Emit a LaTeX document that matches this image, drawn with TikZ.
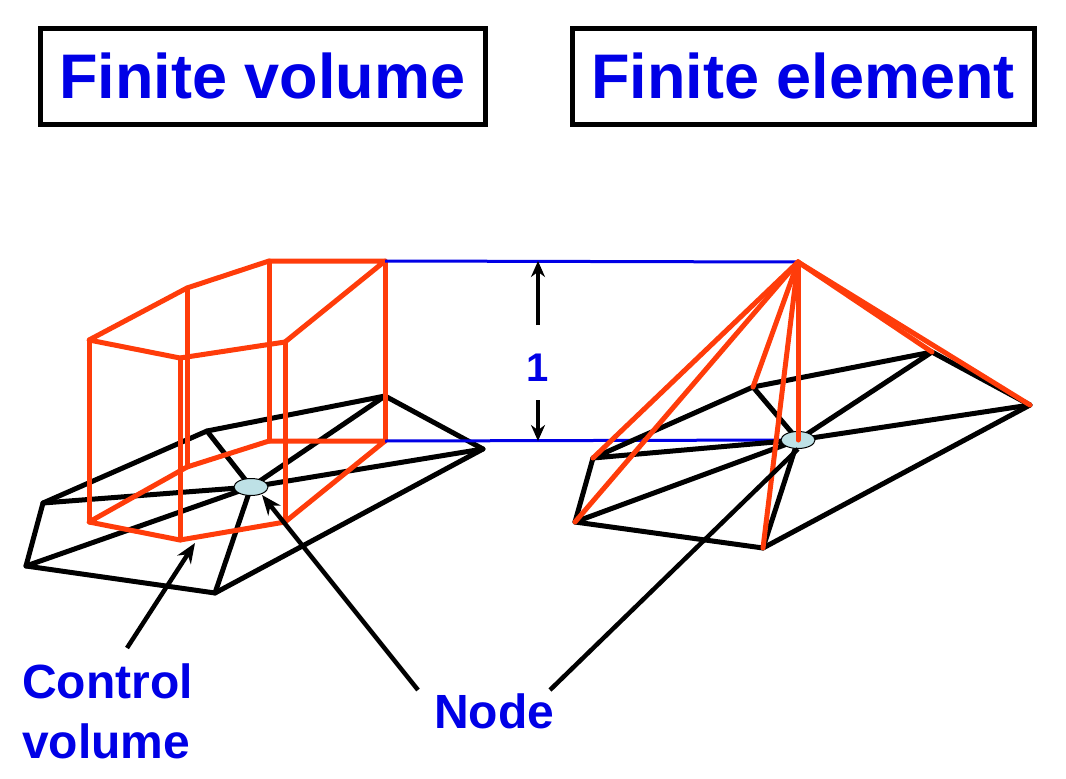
\documentclass[tikz,border=0pt]{standalone}
\usepackage{fontspec}
\setmainfont{Liberation Sans}
\usetikzlibrary{arrows.meta,shapes.geometric}
\definecolor{tblue}{RGB}{0,0,230}
\definecolor{tred}{RGB}{255,60,10}
\definecolor{nodefill}{RGB}{190,225,230}
\begin{document}
\begin{tikzpicture}[x=1pt,y=-1pt,
  mesh/.style={black,line width=5pt,line join=round,line cap=round},
  cv/.style={tred,line width=5pt,line join=round,line cap=round},
  guide/.style={tblue,line width=3pt},
  pt/.style={ellipse,draw=black,fill=nodefill,minimum width=34pt,minimum height=17pt,inner sep=0pt,line width=1pt},
  ttl/.style={font=\bfseries\fontsize{63}{66}\selectfont,text=tblue},
  lbl/.style={font=\bfseries\fontsize{48}{60}\selectfont,text=tblue,align=left},
  ptr/.style={black,line width=4.5pt,-{Stealth[length=20pt,width=16pt]}}]
\useasboundingbox (0,0) rectangle (1066,779);
% titles
\draw[line width=5pt] (40,28) rectangle (485,124);
\node[ttl] (t1) at (262.5,76) {Finite volume};
\draw[line width=5pt] (572,28) rectangle (1034,124);
\node[ttl] (t2) at (803,76) {Finite element};
% left mesh
\coordinate (A) at (207,431); \coordinate (B) at (385,396); \coordinate (C) at (483,449);
\coordinate (D) at (215,593); \coordinate (E) at (26,566); \coordinate (F) at (43,503);
\coordinate (N) at (251,487);
\draw[mesh] (F)--(A)--(B)--(C)--(D)--(E)--cycle;
\foreach \p in {A,B,C,D,E,F} \draw[mesh] (N)--(\p);
% control volume
\coordinate (T1) at (89,340); \coordinate (T2) at (187,288); \coordinate (T3) at (269,261);
\coordinate (T4) at (385,261); \coordinate (T5) at (285,342); \coordinate (T6) at (180,358);
\coordinate (B1) at (89,522); \coordinate (B2) at (187,467); \coordinate (B3) at (269,441);
\coordinate (B4) at (385,441); \coordinate (B5) at (285,522); \coordinate (B6) at (180,540);
\draw[cv] (T1)--(T2)--(T3)--(T4)--(T5)--(T6)--cycle;
\draw[cv] (B1)--(B2)--(B3)--(B4)--(B5)--(B6)--cycle;
\foreach \i in {1,...,6} \draw[cv] (T\i)--(B\i);
\node[pt] (n1) at (N) {};
% guides
\coordinate (P) at (798,262);
\coordinate (M) at (798,440);
\draw[guide] (T4)--(P);
\draw[guide] (B4)--(M);
% right mesh
\coordinate (RA) at (753,387); \coordinate (RB) at (932,352); \coordinate (RC) at (1030,405);
\coordinate (RD) at (763,548); \coordinate (RE) at (575,522); \coordinate (RF) at (593,458);
\draw[mesh] (RF)--(RA)--(RB)--(RC)--(RD)--(RE)--cycle;
\foreach \p in {RA,RB,RC,RD,RE,RF} \draw[mesh] (M)--(\p);
\node[pt] (n2) at (M) {};
\foreach \p in {RF,RE,RA,RD,M,RB,RC} \draw[cv] (P)--(\p);
% dimension
\node[font=\bfseries\fontsize{40}{44}\selectfont,text=tblue] (one) at (538,368) {1};
\coordinate (dt) at (538,261); \coordinate (db) at (538,441);
\draw[black,line width=4.5pt,-{Stealth[length=16pt,width=14pt]}] (538,325)--(dt);
\draw[black,line width=4.5pt,-{Stealth[length=16pt,width=14pt]}] (538,400)--(db);
% labels
\node[lbl,anchor=north west,inner sep=0pt] (cvl) at (22,664) {Control\\volume};
\node[lbl,anchor=north west,inner sep=0pt] (nl) at (434,694) {Node};
\draw[ptr] (127,648)--(195,543);
\draw[ptr] (418,690)--(262,495);
\draw[black,line width=4.5pt] (550,690)--(n2.south);
\end{tikzpicture}
\end{document}
